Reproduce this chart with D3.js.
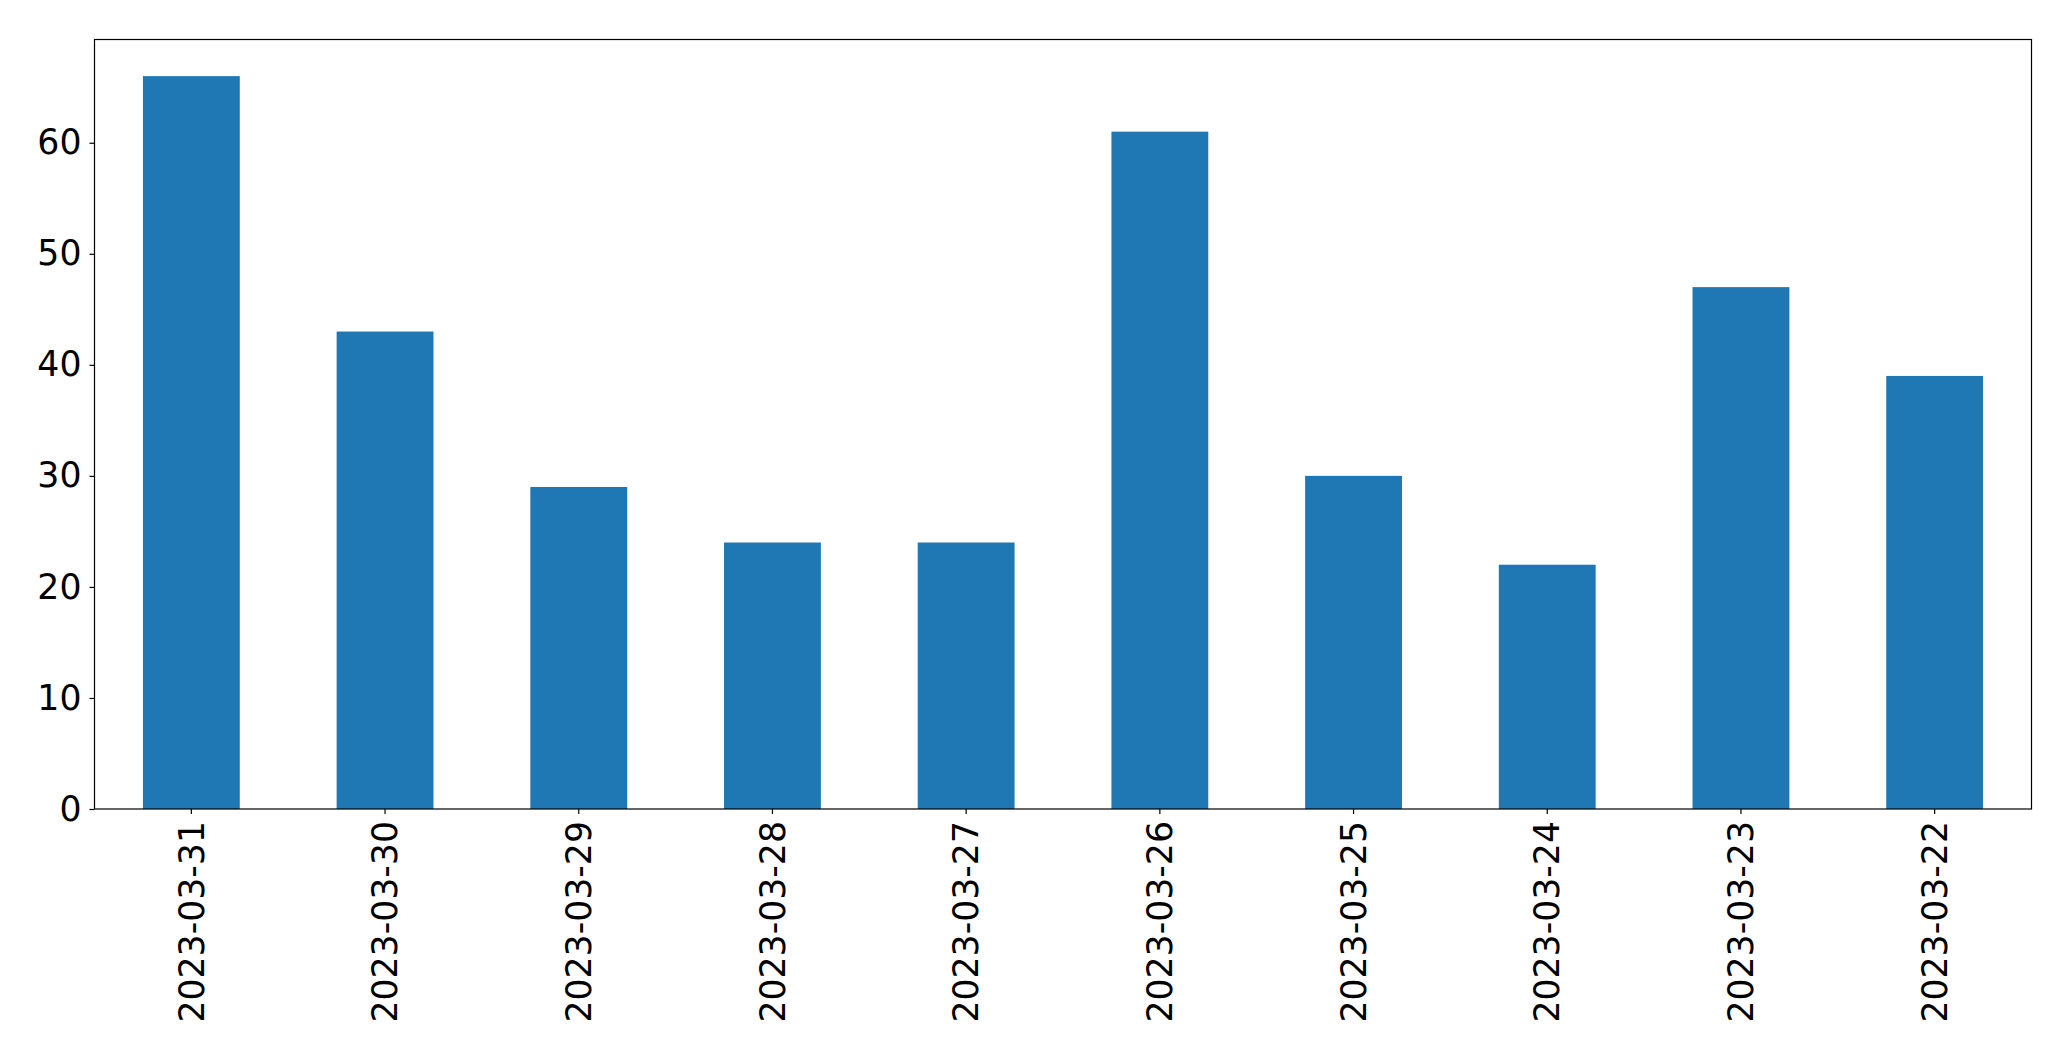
<!DOCTYPE html>
<html>
<head>
<meta charset="utf-8">
<script src="https://cdn.jsdelivr.net/npm/d3@7"></script>
<style>
  body { margin: 0; background: #fff; }
  svg { display: block; }
  .axis text { font-family: "DejaVu Sans", sans-serif; font-size: 34.7px; fill: #000; }
  .axis line, .axis path { stroke: #000; stroke-width: 1.2; }
</style>
</head>
<body>
<svg width="2071" height="1061"></svg>
<script>
var dates = ["2023-03-31", "2023-03-30", "2023-03-29", "2023-03-28", "2023-03-27",
             "2023-03-26", "2023-03-25", "2023-03-24", "2023-03-23", "2023-03-22"];
var counts = [66, 43, 29, 24, 24, 61, 30, 22, 47, 39];
var yTicks = [0, 10, 20, 30, 40, 50, 60];

var svg = d3.select("svg");
var margin = { top: 39.5, right: 39.5, bottom: 252, left: 94.5 };
var width = 2071 - margin.left - margin.right;
var height = 1061 - margin.top - margin.bottom;
var g = svg.append("g").attr("transform", "translate(" + margin.left + "," + margin.top + ")");

// bars take half of each slot, like pandas bar plots
var x = d3.scaleBand().domain(dates).range([0, width]).paddingInner(0.5).paddingOuter(0.25);
var y = d3.scaleLinear().domain([0, d3.max(counts) * 1.05]).range([height, 0]);

g.selectAll("rect")
    .data(counts)
    .enter().append("rect")
    .attr("x", function (d, i) { return x(dates[i]); })
    .attr("y", function (d) { return y(d); })
    .attr("width", x.bandwidth())
    .attr("height", function (d) { return height - y(d); })
    .attr("fill", "#1f77b4");

// frame
g.append("rect")
    .attr("width", width)
    .attr("height", height)
    .attr("fill", "none")
    .attr("stroke", "#000")
    .attr("stroke-width", 1.2);

// x axis, labels turned upright
var xAxis = g.append("g")
    .attr("class", "axis")
    .attr("transform", "translate(0," + height + ")")
    .call(d3.axisBottom(x).tickSize(5).tickSizeOuter(0));
xAxis.select(".domain").remove();
xAxis.selectAll("text")
    .attr("transform", "rotate(-90)")
    .attr("text-anchor", "end")
    .attr("x", -12)
    .attr("y", 0)
    .attr("dy", "0.35em");

// y axis
var yAxis = g.append("g")
    .attr("class", "axis")
    .call(d3.axisLeft(y).tickValues(yTicks).tickSize(5).tickPadding(8));
yAxis.select(".domain").remove();
</script>
</body>
</html>
